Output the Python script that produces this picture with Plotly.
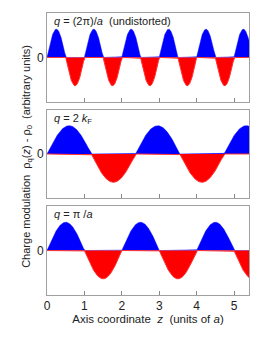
import numpy as np
import plotly.graph_objects as go
from plotly.subplots import make_subplots

# Data: one sine wave per panel (charge density modulation)
panel_labels = [
    "<i>q</i> = (2π)/<i>a</i>\u00a0\u00a0(undistorted)",
    "<i>q</i> = 2 <i>k</i><sub>F</sub>",
    "<i>q</i> = π /<i>a</i>",
]
wavelengths = [1.0, 2.367, 2.0]   # in units of a
amplitude = 1.0
x_ticks = [0, 1, 2, 3, 4, 5]
x_max = 5.4

z = np.linspace(0, x_max, 1200)

fig = make_subplots(rows=3, cols=1, shared_xaxes=True, vertical_spacing=0.027)

for i, lam in enumerate(wavelengths):
    y = amplitude * np.sin(2 * np.pi * z / lam)
    ypos = np.maximum(y, 0)
    yneg = np.minimum(y, 0)
    fig.add_trace(go.Scatter(x=z, y=ypos, mode="lines", fill="tozeroy",
                             fillcolor="#0000ff", line=dict(color="#0000ff", width=0.5),
                             hoverinfo="skip", showlegend=False), row=i + 1, col=1)
    fig.add_trace(go.Scatter(x=z, y=yneg, mode="lines", fill="tozeroy",
                             fillcolor="#ff0000", line=dict(color="#ff3030", width=1),
                             hoverinfo="skip", showlegend=False), row=i + 1, col=1)

FONT = "Liberation Sans, Arial"
axis_color = "#a0a0a0"
for r in range(1, 4):
    fig.update_xaxes(range=[0, x_max], tickvals=x_ticks, ticks="inside", ticklen=4,
                     tickcolor="#888", showline=True, linecolor=axis_color, linewidth=1,
                     mirror=True, showgrid=False, zeroline=False, automargin=False,
                     showticklabels=(r == 3),
                     tickfont=dict(family=FONT, size=12, color="#222"),
                     row=r, col=1)
    fig.update_yaxes(range=[-1.57, 1.57], tickvals=[0], ticktext=["0"], ticks="",
                     showline=True, linecolor=axis_color, linewidth=1, mirror=True,
                     showgrid=False, zeroline=False, automargin=False,
                     tickfont=dict(family=FONT, size=12, color="#222"),
                     row=r, col=1)

fig.update_xaxes(title=dict(text="Axis coordinate\u00a0\u00a0<i>z</i>\u00a0\u00a0(units of <i>a</i>)",
                            font=dict(family=FONT, size=11.5, color="#222"),
                            standoff=2), row=3, col=1)

# panel labels
for i, lab in enumerate(panel_labels):
    yref = "y domain" if i == 0 else f"y{i+1} domain"
    xref = "x domain" if i == 0 else f"x{i+1} domain"
    fig.add_annotation(text=lab, xref=xref, yref=yref, x=0.025, y=1.0,
                       xanchor="left", yanchor="top", showarrow=False,
                       font=dict(family=FONT, size=11, color="#222"))

fig.add_annotation(text="Charge modulation\u00a0\u00a0ρ<sub>q</sub>(<i>z</i>) - ρ<sub>0</sub>\u00a0\u00a0(arbitrary units)",
                   xref="paper", yref="paper", x=-0.099, y=0.49, textangle=-90,
                   xanchor="center", yanchor="middle", showarrow=False,
                   font=dict(family=FONT, size=11, color="#222"))

fig.update_layout(width=269, height=343, margin=dict(l=47, r=20, t=13, b=48),
                  paper_bgcolor="white", plot_bgcolor="white")

fig.write_html("out.html", config={"displayModeBar": False},
               post_script="document.body.style.margin='0';")
